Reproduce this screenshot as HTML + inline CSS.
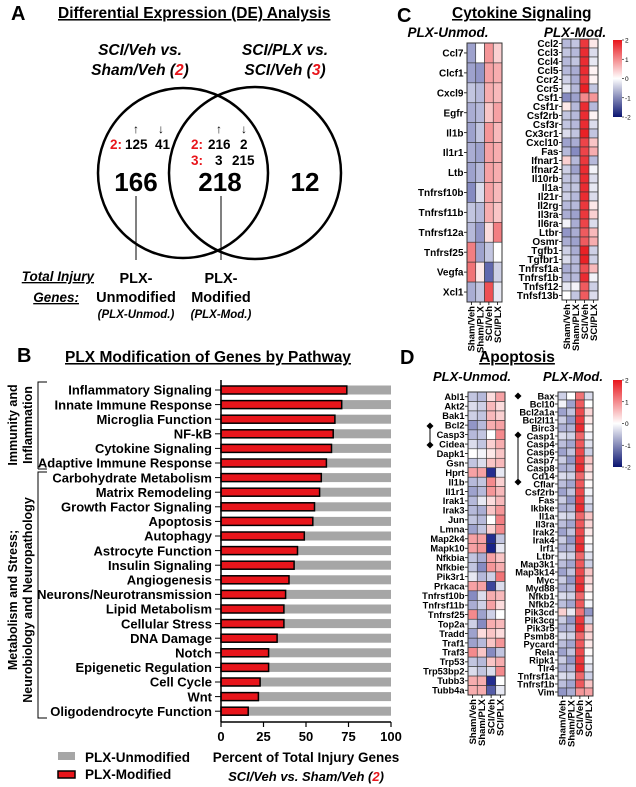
<!DOCTYPE html>
<html><head><meta charset="utf-8"><style>
html,body{margin:0;padding:0;background:#fff;}
svg{display:block;font-family:"Liberation Sans",sans-serif;font-weight:bold;}
</style></head><body>
<svg id="s" width="636" height="787" viewBox="0 0 636 787" xmlns="http://www.w3.org/2000/svg">
<!-- Panel A -->
<text x="11" y="20" font-size="20">A</text>
<text x="58" y="18" font-size="15.5" text-decoration="underline">Differential Expression (DE) Analysis</text>
<g font-style="italic" font-size="15.5" text-anchor="middle">
<text x="140" y="55">SCI/Veh vs.</text>
<text x="140" y="75">Sham/Veh (<tspan fill="#e8151b">2</tspan>)</text>
<text x="285" y="55">SCI/PLX vs.</text>
<text x="285" y="75">SCI/Veh (<tspan fill="#e8151b">3</tspan>)</text>
</g>
<circle cx="183" cy="173" r="85" fill="none" stroke="#000" stroke-width="2.5"/>
<circle cx="255" cy="173" r="86" fill="none" stroke="#000" stroke-width="2.5"/>
<g font-size="12" font-weight="normal" text-anchor="middle">
<text x="136" y="133">↑</text><text x="161" y="133">↓</text>
<text x="219" y="133">↑</text><text x="244" y="133">↓</text>
</g>
<g font-size="13.5">
<text x="110" y="149" fill="#e8151b">2:</text><text x="125" y="149">125</text><text x="155" y="149">41</text>
<text x="191" y="149" fill="#e8151b">2:</text><text x="208" y="149">216</text><text x="240" y="149">2</text>
<text x="191" y="165" fill="#e8151b">3:</text><text x="215" y="165">3</text><text x="232" y="165">215</text>
</g>
<g font-size="26" text-anchor="middle">
<text x="136" y="191">166</text><text x="220" y="191">218</text><text x="305" y="191">12</text>
</g>
<line x1="136" y1="196" x2="136" y2="260" stroke="#000" stroke-width="1"/>
<line x1="221" y1="196" x2="221" y2="260" stroke="#000" stroke-width="1"/>
<g font-style="italic" font-size="13.5" text-decoration="underline" text-anchor="end">
<text x="94" y="281">Total Injury</text><text x="79" y="302">Genes:</text>
</g>
<g font-size="14.5" text-anchor="middle">
<text x="136" y="283">PLX-</text><text x="136" y="302">Unmodified</text>
<text x="221" y="283">PLX-</text><text x="221" y="302">Modified</text>
</g>
<g font-size="11.5" font-style="italic" text-anchor="middle">
<text x="136" y="318">(PLX-Unmod.)</text><text x="221" y="318">(PLX-Mod.)</text>
</g>
<!-- Panel B -->
<text x="17" y="362" font-size="20">B</text>
<text x="65" y="362" font-size="15.5" text-decoration="underline">PLX Modification of Genes by Pathway</text>
<g id="bars"></g>
<g font-size="12.5" text-anchor="middle" transform="rotate(-90)">
<text x="-425" y="17">Immunity and</text><text x="-425" y="32">Inflammation</text>
<text x="-600" y="17">Metabolism and Stress;</text><text x="-600" y="32">Neurobiology and Neuropathology</text>
</g>
<path d="M47,382 H38 V469 M47,469 H38" fill="none" stroke="#000" stroke-width="1"/>
<path d="M47,472 H38 V718 H47" fill="none" stroke="#000" stroke-width="1"/>
<rect x="58" y="752" width="17" height="8" fill="#a6a6a6"/>
<text x="85" y="762" font-size="13.5">PLX-Unmodified</text>
<rect x="58" y="771" width="17" height="7" fill="#e8151b" stroke="#000" stroke-width="1.5"/>
<text x="85" y="779" font-size="13.5">PLX-Modified</text>
<text x="306" y="762" font-size="13.5" text-anchor="middle">Percent of Total Injury Genes</text>
<text x="306" y="781" font-size="13" font-style="italic" text-anchor="middle">SCI/Veh vs. Sham/Veh (<tspan fill="#e8151b">2</tspan>)</text>
<!-- Panel C -->
<text x="397" y="22" font-size="20">C</text>
<text x="452" y="18" font-size="15.5" text-decoration="underline">Cytokine Signaling</text>
<text x="448" y="37" font-size="13.5" font-style="italic" text-anchor="middle">PLX-Unmod.</text>
<text x="575" y="37" font-size="13.5" font-style="italic" text-anchor="middle">PLX-Mod.</text>
<!-- Panel D -->
<text x="400" y="364" font-size="20">D</text>
<text x="517" y="362" font-size="15.5" text-anchor="middle" text-decoration="underline">Apoptosis</text>
<text x="472" y="381" font-size="13" font-style="italic" text-anchor="middle">PLX-Unmod.</text>
<text x="573" y="381" font-size="13" font-style="italic" text-anchor="middle">PLX-Mod.</text>
<g id="hm"></g>
</svg>
<script>
var NS="http://www.w3.org/2000/svg";
function el(p,t,a,txt){var e=document.createElementNS(NS,t);for(var k in a)e.setAttribute(k,a[k]);if(txt!=null)e.textContent=txt;p.appendChild(e);return e;}
var bg=document.getElementById("bars");
var names=["Inflammatory Signaling","Innate Immune Response","Microglia Function","NF-kB","Cytokine Signaling","Adaptive Immune Response","Carbohydrate Metabolism","Matrix Remodeling","Growth Factor Signaling","Apoptosis","Autophagy","Astrocyte Function","Insulin Signaling","Angiogenesis","Neurons/Neurotransmission","Lipid Metabolism","Cellular Stress","DNA Damage","Notch","Epigenetic Regulation","Cell Cycle","Wnt","Oligodendrocyte Function"];
var vals=[74,71,67,66,65,62,59,58,55,54,49,45,43,40,38,37,37,33,28,28,23,22,16];
var x0=221,sc=1.7;
for(var i=0;i<23;i++){var y=390+i*14.6;
el(bg,"rect",{x:x0,y:y-4.5,width:170,height:9,fill:"#a6a6a6"});
el(bg,"rect",{x:x0,y:y-4,width:vals[i]*sc,height:8,fill:"#e8151b",stroke:"#000","stroke-width":1.5});
el(bg,"line",{x1:215,y1:y,x2:x0,y2:y,stroke:"#000","stroke-width":1});
el(bg,"text",{x:212,y:y+4.7,"font-size":"13","text-anchor":"end"},names[i]);}
el(bg,"line",{x1:x0,y1:380,x2:x0,y2:722,stroke:"#000","stroke-width":1.5});
el(bg,"line",{x1:x0,y1:722,x2:391,y2:722,stroke:"#000","stroke-width":1.5});
[0,25,50,75,100].forEach(function(t){var x=x0+t*sc;el(bg,"line",{x1:x,y1:722,x2:x,y2:727,stroke:"#000","stroke-width":1.2});el(bg,"text",{x:x,y:741,"font-size":"13","text-anchor":"middle"},String(t));});
function col(v){v=Math.max(-2,Math.min(2,v));var r,g,b;
if(v>=0){var t=v/2;r=255+(232-255)*t;g=255+(21-255)*t;b=255+(27-255)*t;}
else{var t=-v/2;r=255+(12-255)*t;g=255+(22-255)*t;b=255+(130-255)*t;}
return "rgb("+Math.round(r)+","+Math.round(g)+","+Math.round(b)+")";}
var hm=document.getElementById("hm");
function heat(x,y,w,h,labels,data,fs){
var cw=w/4,rh=h/labels.length;
for(var i=0;i<labels.length;i++){for(var j=0;j<4;j++){el(hm,"rect",{x:x+j*cw,y:y+i*rh,width:cw,height:rh,fill:col(data[i][j]),stroke:"#333","stroke-width":0.6});}
el(hm,"line",{x1:x-3,y1:y+(i+0.5)*rh,x2:x,y2:y+(i+0.5)*rh,stroke:"#000","stroke-width":0.8});
el(hm,"text",{x:x-3.5,y:y+(i+0.5)*rh+fs*0.36,"font-size":fs,"text-anchor":"end"},labels[i]);}
el(hm,"rect",{x:x,y:y,width:w,height:h,fill:"none",stroke:"#333","stroke-width":1});
var cl=["Sham/Veh","Sham/PLX","SCI/Veh","SCI/PLX"];
for(var j=0;j<4;j++){var cx=x+(j+0.5)*cw+3.3;el(hm,"line",{x1:cx-3.3,y1:y+h,x2:cx-3.3,y2:y+h+3,stroke:"#000","stroke-width":0.8});
el(hm,"text",{x:-(y+h+4),y:cx,"font-size":9.5,"text-anchor":"end",transform:"rotate(-90)"},cl[j]);}}
function cbar(x,y,h){var gid="g"+y;var d=el(hm,"defs",{});var lg=el(d,"linearGradient",{id:gid,x1:0,y1:0,x2:0,y2:1});
el(lg,"stop",{offset:"0","stop-color":col(2)});el(lg,"stop",{offset:"0.5","stop-color":"#fff"});el(lg,"stop",{offset:"1","stop-color":"#0a1470"});
el(hm,"rect",{x:x,y:y,width:9,height:h,fill:"url(#"+gid+")"});
[2,1,0,-1,-2].forEach(function(v,k){var yy=y+k*h/4;el(hm,"line",{x1:x+9,y1:yy,x2:x+11,y2:yy,stroke:"#000","stroke-width":0.6});el(hm,"text",{x:x+12,y:yy+2.5,"font-size":6.5,"font-weight":"normal"},String(v));});}
var cL=["Ccl7","Clcf1","Cxcl9","Egfr","Il1b","Il1r1","Ltb","Tnfrsf10b","Tnfrsf11b","Tnfrsf12a","Tnfrsf25","Vegfa","Xcl1"];
var cLd=[[-0.8,0,0.9,0.4],[-0.8,-0.9,0.8,0.7],[-0.5,-0.6,0.7,0.6],[-0.7,-0.6,0.5,0.8],[-0.8,-0.5,0.9,0.6],[-0.7,-0.8,0.8,0.7],[-0.8,-0.6,0.8,0.7],[-1,-0.3,0.8,0.6],[-0.5,-0.6,0.7,0.5],[-0.6,-0.9,0.3,1.1],[1.1,-0.8,-0.5,0],[1.2,0.2,-1.3,-0.4],[-0.7,-0.5,1.5,-0.2]];
heat(467,43,35,259,cL,cLd,10);
var cR=["Ccl2","Ccl3","Ccl4","Ccl5","Ccr2","Ccr5","Csf1","Csf1r","Csf2rb","Csf3r","Cx3cr1","Cxcl10","Fas","Ifnar1","Ifnar2","Il10rb","Il1a","Il21r","Il2rg","Il3ra","Il6ra","Ltbr","Osmr","Tgfb1","Tgfbr1","Tnfrsf1a","Tnfrsf1b","Tnfsf12","Tnfsf13b"];
var cRd=[[-0.6,-0.5,1.7,0.2],[-0.5,-0.6,1.8,-0.3],[-0.6,-0.5,1.8,-0.2],[-0.6,-0.7,1.8,0.1],[-0.4,-0.7,1.7,0.1],[-0.2,-0.6,1.9,-0.5],[-1,-0.8,1.0,0.9],[0.2,-0.6,1.8,-0.6],[-0.5,-0.6,1.8,0.1],[-0.5,-0.6,1.8,-0.3],[-0.3,-0.5,1.9,-0.5],[-0.8,-0.7,1.6,0.5],[-0.6,-1.0,1.6,0.7],[0.4,-0.6,1.7,-0.6],[-0.4,-0.8,1.8,-0.1],[-0.5,-0.6,1.8,-0.3],[-0.5,-0.5,1.8,-0.2],[-0.4,-0.6,1.8,-0.3],[-0.6,-0.6,1.7,0.2],[-0.7,-0.8,1.7,0.4],[-0.1,-0.7,1.6,-0.3],[-0.9,-0.7,1.4,0.6],[-0.7,-0.8,1.4,0.7],[-0.4,-0.7,1.9,-0.4],[-0.3,-0.6,1.9,-0.4],[-0.7,-0.6,1.5,0.6],[-0.6,-0.6,1.8,-0.1],[-0.2,-0.1,1.4,-0.4],[0,-0.5,1.4,-0.3]];
heat(562,39,36,261,cR,cRd,10);
cbar(613,40,77);
var dL=["Abl1","Akt2","Bak1","Bcl2","Casp3","Cidea","Dapk1","Gsn","Hprt","Il1b","Il1r1","Irak1","Irak3","Jun","Lmna","Map2k4","Mapk10","Nfkbia","Nfkbie","Pik3r1","Prkaca","Tnfrsf10b","Tnfrsf11b","Tnfrsf25","Top2a","Tradd","Traf1","Traf3","Trp53","Trp53bp2","Tubb3","Tubb4a"];
var dLd=[[-0.5,-0.6,0.3,0.8],[-0.3,-0.4,0.6,0.3],[-0.4,-0.5,0.6,0.4],[-0.9,-0.6,0.7,0.8],[-0.6,-0.5,0,1.0],[-0.3,-0.5,0.4,0.7],[0,-0.1,0.2,0.5],[-0.5,-0.3,0.5,0.6],[0.8,0.8,-1.8,-0.2],[-0.6,-0.5,1.0,0.4],[-0.8,-0.6,0.9,0.6],[-0.6,-0.2,0.3,0.6],[-0.6,-0.7,0.5,0.9],[-0.5,-0.6,0,1.1],[-0.8,-0.5,0.4,1.0],[0.8,0.8,-1.8,-0.5],[0.8,0.9,-1.9,-0.2],[-0.5,-0.7,0.8,0.5],[-0.5,-1.0,0.9,0.7],[-0.2,-0.6,-0.4,1.2],[0.8,0.8,-1.6,-0.3],[-1,-0.3,0.7,0.6],[-0.7,-0.4,0.8,0.3],[1.0,-0.8,-0.4,0],[-0.4,-1.0,0.7,0.6],[-0.8,0.3,0.5,0.3],[-0.8,-0.6,0.5,0.9],[1.0,0.5,-1.0,-0.5],[-0.5,-0.6,0.5,0.7],[-0.3,-0.5,-0.3,1.0],[0.7,0.7,-1.8,0],[0.7,0.7,-1.4,-0.2]];
heat(468,392,37,303,dL,dLd,9.3);
var dR=["Bax","Bcl10","Bcl2a1a","Bcl2l11","Birc3","Casp1","Casp4","Casp6","Casp7","Casp8","Cd14","Cflar","Csf2rb","Fas","Ikbke","Il1a","Il3ra","Irak2","Irak4","Irf1","Ltbr","Map3k1","Map3k14","Myc","Myd88","Nfkb1","Nfkb2","Pik3cd","Pik3cg","Pik3r5","Psmb8","Pycard","Rela","Ripk1","Tlr4","Tnfrsf1a","Tnfrsf1b","Vim"];
var dRd=[];
for(var i=0;i<38;i++){var a=-0.3-0.5*((i*7)%5)/4,b=-0.4-0.5*((i*3)%5)/4,c=1.3+0.5*((i*11)%5)/4,d=-0.4+0.9*((i*13)%7)/6;dRd.push([a,b,c,d]);}
dRd[0]=[-0.4,0,1.2,-0.3];dRd[1]=[-0.1,-0.8,1.4,0];dRd[27]=[0.4,-0.2,1.2,-0.9];dRd[37]=[-0.9,-0.7,0.9,0.8];
heat(558,392,35,304,dR,dRd,9.3);
cbar(613,380,87);
function dia(x,y){el(hm,"path",{d:"M"+x+","+(y-3.5)+" L"+(x+3.5)+","+y+" L"+x+","+(y+3.5)+" L"+(x-3.5)+","+y+"Z",fill:"#000"});}
dia(430,426);dia(430,445);el(hm,"line",{x1:430,y1:426,x2:430,y2:445,stroke:"#000","stroke-width":1});
dia(518,396);dia(518,435);dia(518,482);el(hm,"line",{x1:518,y1:435,x2:518,y2:482,stroke:"#000","stroke-width":1});
</script>
</body></html>
